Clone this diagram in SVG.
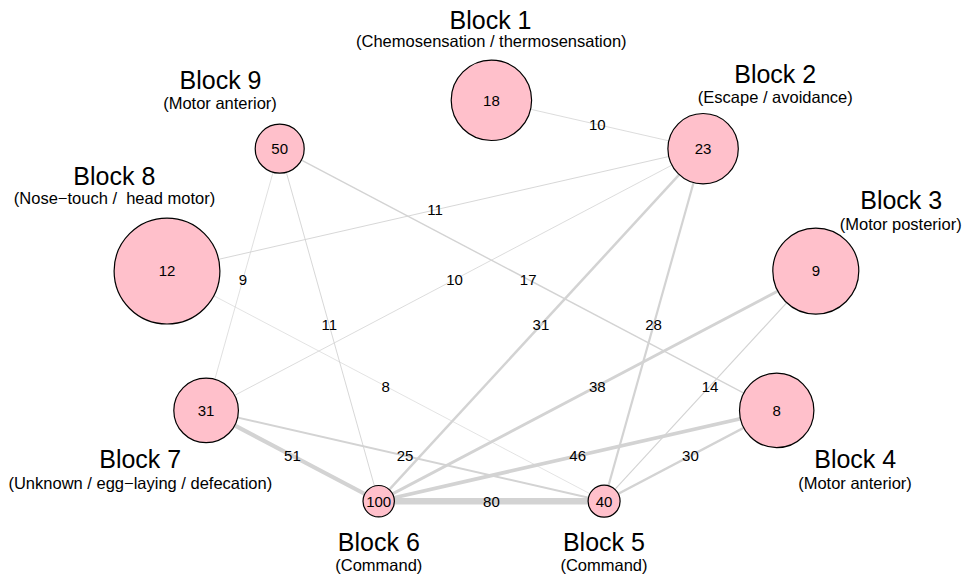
<svg xmlns="http://www.w3.org/2000/svg" width="968" height="577" viewBox="0 0 968 577">
<style>
.e{stroke:#d3d3d3;fill:none}
.n{fill:#ffc0cb;stroke:#000;stroke-width:1.2}
.t{font-family:"Liberation Sans",Arial,sans-serif;text-anchor:middle;fill:#000}
.v{font-size:15px}
.h{font-size:25px}
.s{font-size:16.5px}
</style>
<rect width="968" height="577" fill="#fff"/>
<g id="connectors">
<line class="e" x1="491.4" y1="100.3" x2="703.1" y2="148.7" stroke-width="0.8"/>
<line class="e" x1="167.0" y1="271.1" x2="703.1" y2="148.7" stroke-width="0.9"/>
<line class="e" x1="279.7" y1="148.7" x2="776.7" y2="410.4" stroke-width="1.4"/>
<line class="e" x1="279.7" y1="148.7" x2="206.1" y2="410.4" stroke-width="0.7"/>
<line class="e" x1="279.7" y1="148.7" x2="378.7" y2="501.2" stroke-width="0.9"/>
<line class="e" x1="206.1" y1="410.4" x2="703.1" y2="148.7" stroke-width="0.8"/>
<line class="e" x1="167.0" y1="271.1" x2="604.1" y2="501.2" stroke-width="0.65"/>
<line class="e" x1="378.7" y1="501.2" x2="703.1" y2="148.7" stroke-width="2.5"/>
<line class="e" x1="604.1" y1="501.2" x2="703.1" y2="148.7" stroke-width="2.2"/>
<line class="e" x1="378.7" y1="501.2" x2="815.8" y2="271.1" stroke-width="3.0"/>
<line class="e" x1="604.1" y1="501.2" x2="815.8" y2="271.1" stroke-width="1.1"/>
<line class="e" x1="206.1" y1="410.4" x2="378.7" y2="501.2" stroke-width="4.1"/>
<line class="e" x1="206.1" y1="410.4" x2="604.1" y2="501.2" stroke-width="2.0"/>
<line class="e" x1="378.7" y1="501.2" x2="776.7" y2="410.4" stroke-width="3.7"/>
<line class="e" x1="604.1" y1="501.2" x2="776.7" y2="410.4" stroke-width="2.4"/>
<line class="e" x1="378.7" y1="501.2" x2="604.1" y2="501.2" stroke-width="6.4"/>
<g class="t v">
<text x="597.3" y="129.8">10</text>
<text x="435.1" y="215.2">11</text>
<text x="528.2" y="284.9">17</text>
<text x="242.9" y="284.9">9</text>
<text x="329.2" y="330.3">11</text>
<text x="454.6" y="284.9">10</text>
<text x="385.6" y="391.5">8</text>
<text x="540.9" y="330.3">31</text>
<text x="653.6" y="330.3">28</text>
<text x="597.3" y="391.5">38</text>
<text x="710.0" y="391.5">14</text>
<text x="292.4" y="461.1">51</text>
<text x="405.1" y="461.1">25</text>
<text x="577.7" y="461.1">46</text>
<text x="690.4" y="461.1">30</text>
<text x="491.4" y="506.5">80</text>
</g>
</g>
<g id="block1">
<circle class="n" cx="491.4" cy="100.3" r="40.2"/>
<text class="t v" x="491.4" y="105.6">18</text>
<text class="t h" x="490.5" y="29">Block 1</text>
<text class="t s" x="491.3" y="46.7">(Chemosensation / thermosensation)</text>
</g>
<g id="block2">
<circle class="n" cx="703.1" cy="148.7" r="35.2"/>
<text class="t v" x="703.1" y="154">23</text>
<text class="t h" x="775.2" y="82.7">Block 2</text>
<text class="t s" x="775.3" y="102.5">(Escape / avoidance)</text>
</g>
<g id="block3">
<circle class="n" cx="815.8" cy="271.1" r="43"/>
<text class="t v" x="815.8" y="276.4">9</text>
<text class="t h" x="901.2" y="209.3">Block 3</text>
<text class="t s" x="900.7" y="229.8">(Motor posterior)</text>
</g>
<g id="block4">
<circle class="n" cx="776.7" cy="410.4" r="37.2"/>
<text class="t v" x="776.7" y="415.7">8</text>
<text class="t h" x="855.2" y="468.3">Block 4</text>
<text class="t s" x="855" y="488.5">(Motor anterior)</text>
</g>
<g id="block5">
<circle class="n" cx="604.1" cy="501.2" r="16"/>
<text class="t v" x="604.1" y="506.5">40</text>
<text class="t h" x="603.9" y="551">Block 5</text>
<text class="t s" x="604" y="570.5">(Command)</text>
</g>
<g id="block6">
<circle class="n" cx="378.7" cy="501.2" r="15.7"/>
<text class="t v" x="378.7" y="506.5">100</text>
<text class="t h" x="378.8" y="551">Block 6</text>
<text class="t s" x="378.8" y="570.5">(Command)</text>
</g>
<g id="block7">
<circle class="n" cx="206.1" cy="410.4" r="32.3"/>
<text class="t v" x="206.1" y="415.7">31</text>
<text class="t h" x="140.2" y="468.3">Block 7</text>
<text class="t s" x="140.3" y="488.8">(Unknown / egg−laying / defecation)</text>
</g>
<g id="block8">
<circle class="n" cx="167.0" cy="271.1" r="52.9"/>
<text class="t v" x="167.0" y="276.4">12</text>
<text class="t h" x="114.3" y="185">Block 8</text>
<text class="t s" x="114.5" y="204.4" style="white-space:pre">(Nose−touch /  head motor)</text>
</g>
<g id="block9">
<circle class="n" cx="279.7" cy="148.7" r="24.5"/>
<text class="t v" x="279.7" y="154">50</text>
<text class="t h" x="220.5" y="89">Block 9</text>
<text class="t s" x="220" y="108.7">(Motor anterior)</text>
</g>
</svg>
